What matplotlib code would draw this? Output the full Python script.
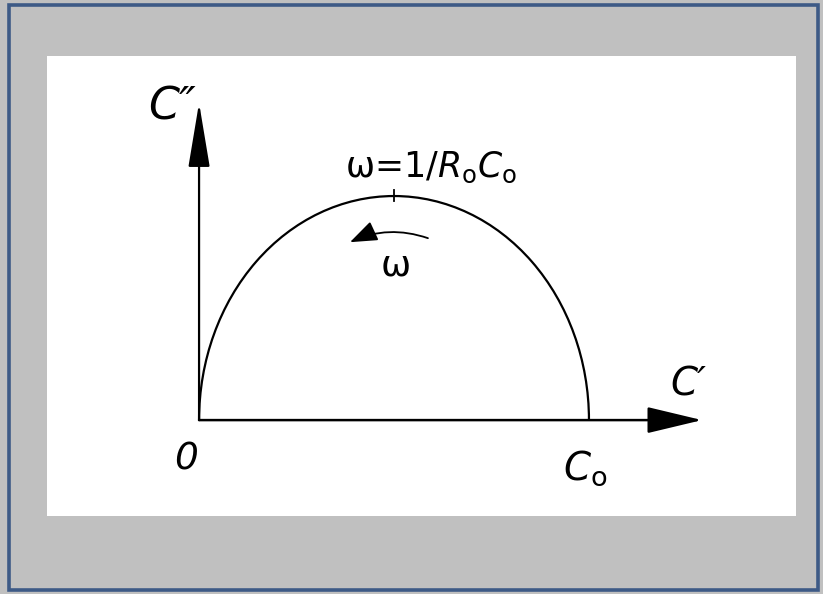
import matplotlib.pyplot as plt
from matplotlib.patches import Arc, Rectangle, FancyArrowPatch

# Cole-Cole plot of C'' against C' for a single relaxation (normalised units)
c0 = 1.0            # static capacitance C0 on the C' axis
peak = 0.5          # height of the arc at w = 1/R0C0
x_axis_end = 1.29
y_axis_end = 0.708
w_arrow_start = (0.587, 0.406)
w_arrow_end = (0.387, 0.397)

fig = plt.figure(figsize=(8.23, 5.94), dpi=100)
fig.patch.set_facecolor('#c0c0c0')
fig.patches.append(Rectangle((0.0115, 0.006), 0.982, 0.986, transform=fig.transFigure,
                             fill=False, edgecolor='#3d5a86', linewidth=2.6))

ax = fig.add_axes([47 / 823, 78 / 594, 749 / 823, 460 / 594])
ax.set_facecolor('white')
ax.set_xlim(-0.390, 1.531)
ax.set_ylim(-0.214, 0.8125)
for s in ax.spines.values():
    s.set_visible(False)
ax.set_xticks([])
ax.set_yticks([])

# axes with arrow heads
ax.add_patch(FancyArrowPatch((0, 0), (x_axis_end, 0), arrowstyle='-|>,head_length=2.3,head_width=0.55',
                             mutation_scale=15, color='black', lw=1.8, shrinkA=0, shrinkB=0))
ax.add_patch(FancyArrowPatch((0, 0), (0, y_axis_end), arrowstyle='-|>,head_length=2.7,head_width=0.45',
                             mutation_scale=15, color='black', lw=1.6, shrinkA=0, shrinkB=0))

# the semicircle from 0 to C0
ax.add_patch(Arc((c0 / 2, 0), c0, 2 * peak, theta1=0, theta2=180, color='black', lw=1.6))
# mark at w = 1/R0C0
ax.plot([c0 / 2, c0 / 2], [peak - 0.012, peak + 0.014], color='black', lw=1.3)

# direction of increasing w
ax.add_patch(FancyArrowPatch(w_arrow_start, w_arrow_end, connectionstyle='arc3,rad=0.2',
                             arrowstyle='-|>,head_length=1.2,head_width=0.45', mutation_scale=14,
                             color='black', lw=1.3, shrinkA=0, shrinkB=0))

plt.rcParams['mathtext.fontset'] = 'dejavusans'
txt = dict(color='black', ha='center', va='center')
ax.text(-0.069, 0.699, "C\u2033", fontsize=32, style='italic', **txt)
ax.text(0.595, 0.565, r'$\mathregular{\omega}$=1/$R_\mathregular{o}C_\mathregular{o}$', fontsize=25, **txt)
ax.text(0.503, 0.345, r'$\mathregular{\omega}$', fontsize=26, **txt)
ax.text(-0.033, -0.089, '0', fontsize=27, style='italic', **txt)
ax.text(0.99, -0.107, r'$C_\mathregular{o}$', fontsize=28, **txt)
ax.text(1.254, 0.080, "C\u2032", fontsize=28, style='italic', **txt)

fig.savefig('out.png', dpi=100, facecolor=fig.get_facecolor())
